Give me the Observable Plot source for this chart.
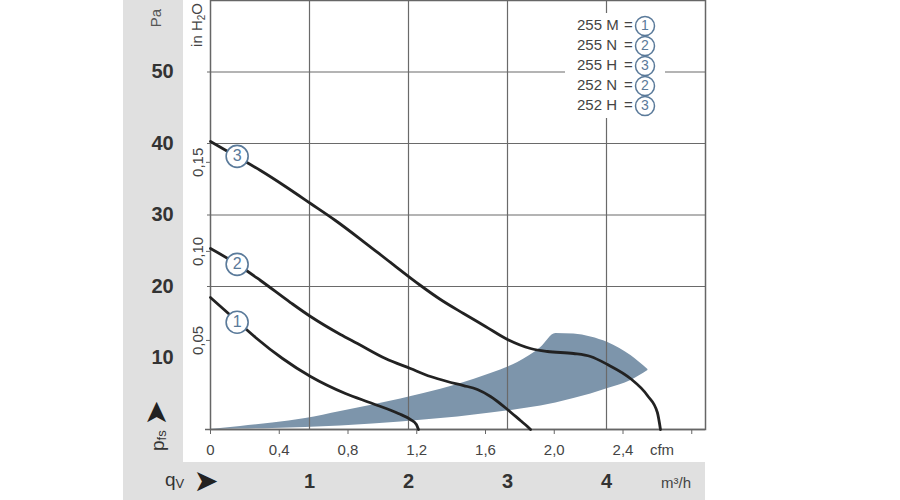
<!DOCTYPE html>
<html><head><meta charset="utf-8">
<script src="https://cdn.jsdelivr.net/npm/d3@7"></script>
<script src="https://cdn.jsdelivr.net/npm/@observablehq/plot@0.6"></script>
<style>
html,body{margin:0;padding:0;background:#fff;}
#chart{width:900px;height:500px;}
</style></head><body><div id="chart"></div>
<script>
// ---- data ----
const paTicks = [10, 20, 30, 40, 50];
const paGrid = [20, 30, 40, 50];
const inH2OTicks = [0.05, 0.10, 0.15];
const PA_PER_INH2O = 249.09;
const cfmTicks = [0, 0.4, 0.8, 1.2, 1.6, 2.0, 2.4, 2.8];
const m3hTicks = [1, 2, 3, 4];
const CFM_PER_M3H = 0.576; // as drawn in the reference

// curves: [cfm, Pa]
const curve1 = [[0,18.46],[0.157,15.10],[0.262,12.87],[0.419,9.93],[0.582,7.41],[0.785,5.03],[0.942,3.64],[1.093,2.24],[1.163,1.40],[1.198,0.70],[1.210,0]];
const curve2 = [[0,25.31],[0.157,23.08],[0.291,20.84],[0.465,17.76],[0.582,15.80],[0.756,13.29],[0.855,12.03],[1.018,9.93],[1.163,8.53],[1.280,7.41],[1.378,6.71],[1.472,6.15],[1.553,5.59],[1.629,4.62],[1.728,2.80],[1.803,1.26],[1.844,0.42],[1.862,0]];
const curve3 = [[0,40.28],[0.151,38.18],[0.291,36.22],[0.436,33.99],[0.582,31.61],[0.727,29.23],[0.890,26.29],[1.047,23.36],[1.222,20.14],[1.338,18.18],[1.472,16.22],[1.600,14.41],[1.728,12.59],[1.862,11.33],[1.960,10.91],[2.112,10.63],[2.211,10.21],[2.310,9.09],[2.443,7.13],[2.542,4.76],[2.600,2.38],[2.618,0]];

// shaded operating range
const shadeCfm  = [0, 0.175, 0.361, 0.553, 0.757, 0.944, 1.107, 1.241, 1.439, 1.631, 1.788, 1.922, 2.009, 2.114, 2.213, 2.312, 2.446, 2.545];
const shadeLow  = [0, 0.06, 0.14, 0.28, 0.49, 0.77, 1.05, 1.33, 1.75, 2.31, 2.80, 3.29, 3.71, 4.34, 4.97, 5.74, 6.86, 8.26];
const shadeHigh = [0, 0.42, 0.91, 1.54, 2.52, 3.43, 4.27, 5.04, 6.30, 7.84, 9.38, 11.48, 13.44, 13.37, 12.95, 12.18, 10.36, 8.40];

const labelIds = [3, 2, 1];
const labelCfm = [0.155, 0.155, 0.155];
const labelPa  = [38.2, 23.1, 15.0];

const legendModels = ["255 M", "255 N", "255 H", "252 N", "252 H"];
const legendCurves = [1, 2, 3, 2, 3];

// ---- build ----
const lines = [[1, curve1], [2, curve2], [3, curve3]].flatMap(([id, pts]) => pts.map(([cfm, pa]) => ({id, cfm, pa})));
const shade = shadeCfm.map((c, i) => ({cfm: c, lo: shadeLow[i], hi: shadeHigh[i]}));
const circLabels = labelIds.map((n, i) => ({n, cfm: labelCfm[i], pa: labelPa[i]}));
const fmt = d => d === 0 ? "0" : d.toFixed(1).replace(".", ",");
const BLUE = "#5a7a9a";
const FONT = "Liberation Sans, Arial, Helvetica, sans-serif";

const chart = Plot.plot({
  width: 900, height: 500,
  marginLeft: 210, marginRight: 195, marginTop: 0, marginBottom: 71,
  style: {fontFamily: FONT, background: "transparent"},
  x: {domain: [0, 2.88], axis: null},
  y: {domain: [0, 60], axis: null},
  marks: [
    Plot.areaY(shade, {x: "cfm", y1: "lo", y2: "hi", fill: "#7d95ab", curve: "monotone-x"}),
    Plot.ruleY(paGrid, {stroke: "#6a6a6a", strokeWidth: 1.2, insetLeft: -3}),
    Plot.ruleX(m3hTicks, {x: d => d * CFM_PER_M3H, stroke: "#6a6a6a", strokeWidth: 1.2}),
    Plot.frame({stroke: "#666", strokeWidth: 1.5}),
    Plot.ruleY([0], {stroke: "#666", strokeWidth: 1.6, insetLeft: -5}),
    Plot.axisX(cfmTicks, {anchor: "bottom", tickSize: 5, tickFormat: () => "", stroke: "#666", label: null}),
    Plot.axisY(inH2OTicks.map(v => v * PA_PER_INH2O), {anchor: "left", tickSize: 4, tickFormat: () => "", stroke: "#666", label: null}),
    Plot.text(cfmTicks.filter(d => d < 2.8), {x: d => d, frameAnchor: "bottom", dy: 21, lineAnchor: "middle", text: fmt, fontSize: 15, fill: "#444"}),
    Plot.text(paTicks, {y: d => d, frameAnchor: "left", dx: -48, text: d => String(d), fontSize: 20, fontWeight: "bold", fill: "#333", textAnchor: "middle"}),
    Plot.text(inH2OTicks, {y: d => d * PA_PER_INH2O, frameAnchor: "left", dx: -12, rotate: -90, text: d => d.toFixed(2).replace(".", ","), fontSize: 15, fill: "#444", textAnchor: "middle"}),
    Plot.text(m3hTicks, {x: d => d * CFM_PER_M3H, frameAnchor: "bottom", dy: 52, lineAnchor: "middle", text: d => String(d), fontSize: 20, fontWeight: "bold", fill: "#333"}),
    Plot.line(lines, {x: "cfm", y: "pa", z: "id", stroke: "#222", strokeWidth: 2.8, curve: "monotone-x", strokeLinecap: "round"}),
    Plot.dot(circLabels, {x: "cfm", y: "pa", r: 11, fill: "white", stroke: BLUE, strokeWidth: 1.6}),
    Plot.text(circLabels, {x: "cfm", y: "pa", text: d => String(d.n), fill: BLUE, fontSize: 16})
  ]
});
document.getElementById("chart").appendChild(chart);

// ---- decoration: gray bands, unit labels, legend ----
const svg = d3.select(chart);
const GRAY = "#e0e0e0";
svg.insert("rect", ":first-child").attr("x", 123).attr("y", 462).attr("width", 582).attr("height", 38).attr("fill", GRAY);
svg.insert("rect", ":first-child").attr("x", 123).attr("y", 0).attr("width", 60).attr("height", 500).attr("fill", GRAY);

const g = svg.append("g").attr("font-family", FONT);
g.append("text").attr("transform", "translate(157,18) rotate(-90)").attr("text-anchor", "middle").attr("dominant-baseline", "middle")
  .attr("font-size", 15).attr("fill", "#555").text("Pa");
const inh = g.append("text").attr("transform", "translate(198,25) rotate(-90)").attr("text-anchor", "middle").attr("dominant-baseline", "middle")
  .attr("font-size", 15).attr("fill", "#444");
inh.append("tspan").text("in H");
inh.append("tspan").attr("font-size", 10).attr("dy", 4).text("2");
inh.append("tspan").attr("dy", -4).text("O");
g.append("text").attr("x", 662).attr("y", 451).attr("text-anchor", "middle").attr("dominant-baseline", "middle")
  .attr("font-size", 15).attr("fill", "#444").text("cfm");
g.append("text").attr("x", 676).attr("y", 484).attr("text-anchor", "middle").attr("dominant-baseline", "middle")
  .attr("font-size", 15).attr("fill", "#444").text("m³/h");
// q_V arrow
const q = g.append("text").attr("x", 165).attr("y", 486).attr("text-anchor", "start").attr("font-size", 19).attr("fill", "#333");
q.append("tspan").text("q");
q.append("tspan").attr("font-size", 13).attr("dy", 2).text("V");
g.append("text").attr("x", 206).attr("y", 482).attr("text-anchor", "middle").attr("dominant-baseline", "middle")
  .attr("font-size", 30).attr("fill", "#222").attr("font-family", "DejaVu Sans").text("➤");
// p_fs arrow
const p = g.append("text").attr("transform", "translate(164,451) rotate(-90)").attr("text-anchor", "start").attr("font-size", 19).attr("fill", "#333");
p.append("tspan").text("p");
p.append("tspan").attr("font-size", 13).attr("dy", 2).text("fs");
g.append("text").attr("transform", "translate(157,413) rotate(-90)").attr("text-anchor", "middle").attr("dominant-baseline", "middle")
  .attr("font-size", 30).attr("fill", "#222").attr("font-family", "DejaVu Sans").text("➤");

// legend box
const lg = svg.append("g").attr("font-family", FONT);
lg.append("rect").attr("x", 565).attr("y", 13).attr("width", 100).attr("height", 105).attr("fill", "white");
legendModels.forEach((m, i) => {
  const y = 26 + 20 * i;
  lg.append("text").attr("x", 577).attr("y", y).attr("text-anchor", "start").attr("dominant-baseline", "middle").attr("font-size", 15).attr("fill", "#444").text(m);
  lg.append("text").attr("x", 624).attr("y", y).attr("text-anchor", "start").attr("dominant-baseline", "middle").attr("font-size", 15).attr("fill", "#444").text("=");
  lg.append("circle").attr("cx", 645).attr("cy", y).attr("r", 9.5).attr("fill", "white").attr("stroke", BLUE).attr("stroke-width", 1.5);
  lg.append("text").attr("x", 645).attr("y", y).attr("text-anchor", "middle").attr("dominant-baseline", "middle").attr("font-size", 14).attr("fill", BLUE).text(String(legendCurves[i]));
});
</script></body></html>
